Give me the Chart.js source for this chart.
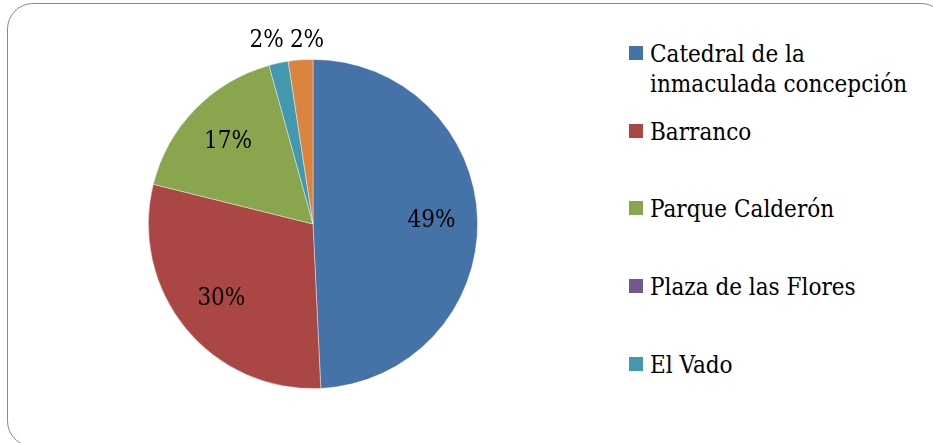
<!DOCTYPE html>
<html>
<head>
<meta charset="utf-8">
<script src="https://cdn.jsdelivr.net/npm/chart.js@4.4.1/dist/chart.umd.min.js"></script>
<style>
  html, body { margin: 0; padding: 0; background: #fff; overflow: hidden; }
  body { width: 933px; height: 443px; position: relative; font-family: "DejaVu Serif Condensed", "DejaVu Serif", serif; }
  .frame {
    position: absolute; left: 7px; top: 3px; width: 940px; height: 444px;
    border: 1.6px solid #8a8a8a; border-radius: 26px; box-sizing: border-box;
  }
  .pie-box { position: absolute; left: 138px; top: 14px; width: 350px; height: 420px; }
  .legend { position: absolute; left: 629px; top: 0; }
  .legend-item { position: absolute; left: 0; white-space: nowrap; }
  .legend-item .sw { position: absolute; left: 0; width: 14px; height: 14px; }
  .legend-item .tx { position: absolute; left: 21px; font-size: 24px; line-height: 30px; color: #000; }
</style>
</head>
<body>
<div class="frame"></div>
<div class="pie-box"><canvas id="pieChart"></canvas></div>
<div class="legend" id="legend"></div>
<script>
// ===== Data =====
const categories = [
  "Catedral de la inmaculada concepción",
  "Barranco",
  "Parque Calderón",
  "Plaza de las Flores",
  "El Vado",
  "Otros"
];
const values = [49.2, 29.6, 16.8, 0, 1.9, 2.4];
const colors = ["#4572A7", "#AA4643", "#89A54E", "#71588F", "#4198AF", "#DB843D"];

// legend only shows the first five (last one is cut off in the original)
const legendCount = 5;
const legendLines = [
  ["Catedral de la", "inmaculada concepción"],
  ["Barranco"], ["Parque Calderón"], ["Plaza de las Flores"], ["El Vado"]
];
const legendBaselines = [62, 140, 217, 295, 373];

// ===== Percent labels plugin =====
const pctLabels = {
  id: "pctLabels",
  afterDatasetsDraw(chart) {
    const { ctx } = chart;
    const meta = chart.getDatasetMeta(0);
    const total = values.reduce((a, b) => a + b, 0);
    ctx.save();
    ctx.font = "24px 'DejaVu Serif Condensed', 'DejaVu Serif', serif";
    ctx.fillStyle = "#000";
    ctx.textAlign = "center";
    ctx.textBaseline = "middle";
    const outside = [];
    meta.data.forEach((arc, i) => {
      if (!values[i]) return;
      const pct = Math.round(values[i] / total * 100) + "%";
      const mid = (arc.startAngle + arc.endAngle) / 2;
      if (values[i] / total < 0.05) {
        const r = arc.outerRadius + 19;
        outside.push({ x: arc.x + Math.cos(mid) * r, y: arc.y + Math.sin(mid) * r, t: pct });
      } else {
        const r = arc.outerRadius * 0.72;
        ctx.fillText(pct, arc.x + Math.cos(mid) * r, arc.y + Math.sin(mid) * r);
      }
    });
    // spread small outside labels so they don't overlap
    outside.sort((a, b) => a.x - b.x);
    for (let k = 1; k < outside.length; k++) {
      const w = ctx.measureText(outside[k].t).width + 6;
      const gap = outside[k].x - outside[k - 1].x;
      if (gap < w) {
        const d = (w - gap) / 2;
        outside[k - 1].x -= d;
        outside[k].x += d;
      }
    }
    const yTop = Math.min(...outside.map(o => o.y));
    outside.forEach(o => ctx.fillText(o.t, o.x, yTop));
    ctx.restore();
  }
};

new Chart(document.getElementById("pieChart"), {
  type: "pie",
  data: {
    labels: categories,
    datasets: [{
      data: values,
      backgroundColor: colors,
      borderColor: "rgba(255,255,255,0.5)",
      borderWidth: 0.8
    }]
  },
  options: {
    responsive: true,
    maintainAspectRatio: false,
    animation: false,
    layout: { padding: 10 },
    plugins: {
      legend: { display: false },
      tooltip: { enabled: false }
    }
  },
  plugins: [pctLabels]
});

// ===== Legend (HTML) =====
const legendEl = document.getElementById("legend");
for (let i = 0; i < legendCount; i++) {
  const item = document.createElement("div");
  item.className = "legend-item";
  const base = legendBaselines[i];
  item.style.top = (base - 23) + "px";
  const sw = document.createElement("div");
  sw.className = "sw";
  sw.style.background = colors[i];
  sw.style.top = "7px";
  const tx = document.createElement("div");
  tx.className = "tx";
  tx.style.top = "0px";
  tx.innerHTML = legendLines[i].join("<br>");
  item.appendChild(sw);
  item.appendChild(tx);
  legendEl.appendChild(item);
}
</script>
</body>
</html>
